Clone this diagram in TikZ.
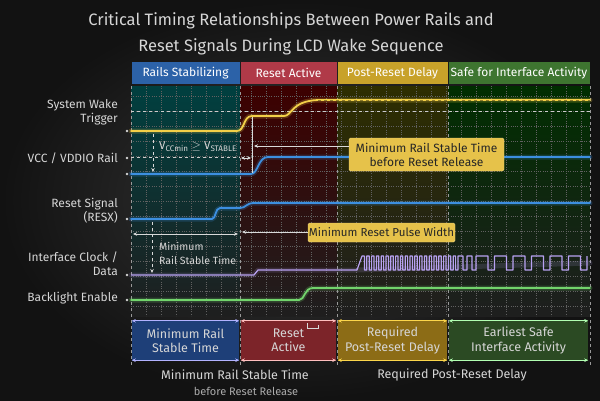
\documentclass[tikz,border=0pt]{standalone}
\usepackage{fontspec}
\setmainfont{Fira Sans}
\usetikzlibrary{positioning,arrows.meta}
\definecolor{bgdark}{HTML}{1A1A1A}
\definecolor{txtgray}{HTML}{D6D6D6}
\definecolor{hblue}{HTML}{2C62A8}
\definecolor{hred}{HTML}{B03A48}
\definecolor{hgold}{HTML}{C8A22A}
\definecolor{hgreen}{HTML}{3E7530}
\definecolor{sigyellow}{HTML}{F2D048}
\definecolor{sigblue}{HTML}{3C8FE0}
\definecolor{sigpurple}{HTML}{B8A2F2}
\definecolor{siggreen}{HTML}{72D46C}
\definecolor{boxyellow}{HTML}{E6C24A}
\definecolor{bblue}{HTML}{1E3F78}
\definecolor{bred}{HTML}{7C2429}
\definecolor{bgold}{HTML}{8C6C16}
\definecolor{bgreen}{HTML}{2B4A23}
\begin{document}
\begin{tikzpicture}[x=1pt,y=-1pt,>={Stealth[length=4pt,width=3.5pt]},
	hdr/.style={minimum height=22pt, inner sep=0pt, text=white, font=\fontsize{12}{13}\selectfont},
	lbl/.style={text=txtgray, font=\fontsize{12}{14}\selectfont, align=right, anchor=east, inner sep=0pt},
	sig/.style={line width=1.8pt, line cap=round, line join=round},
	glow/.style={line width=5pt, opacity=0.22, line cap=round, line join=round},
	note/.style={fill=boxyellow, draw=boxyellow!70!white, rounded corners=1.5pt, text=black!85, inner sep=0pt, align=center},
	bbox/.style={minimum height=41pt, inner sep=0pt, text=txtgray, align=center, font=\fontsize{12.5}{14.5}\selectfont},
	dim/.style={<->, line width=0.8pt},
	tmark/.style={draw=white!85!black, line width=0.6pt}
	]
	\useasboundingbox (0,0) rectangle (600,400);
	\shade[inner color=black!78, outer color=black!93] (0,0) rectangle (600,400);
	% title
	\node[text=txtgray, font=\fontsize{16.5}{26}\selectfont, align=center] (title) at (291,34)
		{Critical Timing Relationships Between Power Rails and\\Reset Signals During LCD Wake Sequence};
	% phase tints
	\shade[top color=teal!50!black, bottom color=black!88] (131,86) rectangle (240,316);
	\shade[top color=red!24!black, bottom color=black!88] (240,86) rectangle (337,316);
	\shade[top color=yellow!18!black, bottom color=black!88] (337,86) rectangle (448,316);
	\shade[top color=green!18!black, bottom color=black!88] (448,86) rectangle (590,316);
	\foreach \gx in {146,161,...,590} \draw[black!62, dotted, line width=0.3pt] (\gx,86) -- (\gx,316);
	\foreach \gy in {96,111,...,316} \draw[black!62, dotted, line width=0.3pt] (131,\gy) -- (590,\gy);
	\foreach \cx in {131,240,337,448,590} \draw[white!60!black, dashed, line width=0.5pt] (\cx,86) -- (\cx,366);
	% phase headers
	\node[hdr, fill=hblue, minimum width=108pt] (hrails) at (185.5,73) {Rails Stabilizing};
	\node[hdr, fill=hred, minimum width=96pt] (hreset) at (288.5,73) {Reset Active};
	\node[hdr, fill=hgold, minimum width=110pt] (hpost) at (392.5,73) {Post-Reset Delay};
	\node[hdr, fill=hgreen, minimum width=141pt] (hsafe) at (519,73) {Safe for Interface Activity};
	% signal names
	\node[lbl] (lwake) at (118,112) {System Wake\\Trigger};
	\node[lbl] (lvcc) at (118,158) {VCC / VDDIO Rail};
	\node[lbl] (lresx) at (118,211) {Reset Signal\\(RESX)};
	\node[lbl] (lclk) at (118,264) {Interface Clock /\\Data};
	\node[lbl] (lbl) at (118,298) {Backlight Enable};
	\foreach \dy in {131,158,174,219,275,300} \fill[txtgray] (127,\dy) circle (1.4);
	% thresholds
	\draw[white!80!black, dashed, line width=0.6pt] (131,111) -- (590,111);
	\draw[white!80!black, dashed, line width=0.6pt] (131,157) -- (240,157);
	% waveforms
	\foreach \st in {glow,sig} {
		\draw[\st, sigyellow] (131,131) -- (237,131) .. controls (245,131) and (243,116) .. (252,116) -- (284,116)
			.. controls (292,116) and (291,101) .. (318,100) -- (590,100);
		\draw[\st, sigblue] (131,174) -- (251,174) .. controls (258,174) and (258,157) .. (268,157) -- (590,157);
		\draw[\st, sigblue] (131,219) -- (212,219) .. controls (216,219) and (215,208) .. (220,208) -- (240,208)
			.. controls (246,208) and (246,203) .. (254,203) -- (590,203);
		\draw[\st, siggreen] (131,300) -- (299,300) .. controls (305,300) and (304,288) .. (313,288) -- (590,288);
	}
	\draw[sigyellow!60!black, dashed, line width=0.4pt] (318,100) -- (590,100);
	\draw[glow, sigpurple, opacity=0.15] (131,275) -- (254,275) -- (258,270) -- (357,270) -- (590,263);
	\draw[sigpurple, line width=1.2pt, line join=round] (131,275) -- (254,275) -- (258,270) -- (357,270) -- (362,256)
		\foreach \i in {0,...,19} { -- ({362+4.8*\i+2.4},256) -- ({362+4.8*\i+2.4},270) -- ({362+4.8*(\i+1)},270) -- ({362+4.8*(\i+1)},256) }
		\foreach \i in {0,1} { -- ({458+9*\i+5},256) -- ({458+9*\i+5},270) -- ({458+9*(\i+1)},270) -- ({458+9*(\i+1)},256) }
		\foreach \i in {0,...,5} { -- ({476+18.5*\i+12},256) -- ({476+18.5*\i+12},270) -- ({476+18.5*(\i+1)},270) -- ({476+18.5*(\i+1)},256) };
	% timing marks
	\coordinate (wklow) at (153,134);
	\coordinate (vcclow) at (153,172);
	\coordinate (rxlow) at (152,222);
	\coordinate (clklow) at (152,273);
	\coordinate (msl) at (133,234);
	\coordinate (msr) at (238,234);
	\coordinate (vsl) at (241,158);
	\coordinate (vsr) at (251,158);
	\coordinate (reltop) at (252,117);
	\coordinate (relbot) at (252,173);
	\coordinate (reltip) at (254,146);
	\coordinate (pultip) at (242,232);
	\draw[->, dashed, tmark] (wklow) -- (vcclow);
	\draw[->, dashed, tmark] (rxlow) -- (clklow);
	\draw[dim, tmark] (msl) -- (msr);
	\draw[dim, tmark, line width=0.5pt] (vsl) -- (vsr);
	\draw[tmark] (reltop) -- (relbot);
	\node[text=txtgray, font=\fontsize{11.5}{13}\selectfont, inner sep=0pt] (vstab) at (198,147)
		{V\textsubscript{CCmin} \ensuremath{\geq} V\textsubscript{STABLE}};
	\node[text=txtgray, font=\fontsize{10.5}{14}\selectfont, align=left, anchor=west, inner sep=0pt] (minrail) at (159,253)
		{Minimum\\Rail Stable Time};
	\node[note, minimum width=155pt, minimum height=33pt, font=\fontsize{12}{14}\selectfont] (relbox) at (426.5,154.5)
		{Minimum Rail Stable Time\\before Reset Release};
	\node[note, minimum width=147pt, minimum height=19pt, font=\fontsize{11.5}{13}\selectfont] (pulbox) at (381.5,232.5)
		{Minimum Reset Pulse Width};
	\draw[->, tmark] (relbox.west |- reltip) -- (reltip);
	\draw[->, tmark] (pulbox.west |- pultip) -- (pultip);
	% phase durations
	\node[bbox, fill=bblue, minimum width=107pt] (drails) at (185.5,340.5) {Minimum Rail\\Stable Time};
	\node[bbox, fill=bred, minimum width=95pt] (dreset) at (288.5,340.5) {Reset\\Active};
	\node[bbox, fill=bgold, minimum width=109pt] (dpost) at (392.5,340.5) {Required\\Post-Reset Delay};
	\node[bbox, fill=bgreen, minimum width=139pt] (dsafe) at (518.5,340.5) {Earliest Safe\\Interface Activity};
	\foreach \bx/\bc in {drails/blue!30!white, dreset/red!25!white, dpost/yellow!60!orange!70!white, dsafe/green!30!white} {
		\draw[dim, \bc] (\bx.north west) ++(0,1) -- ([yshift=-1pt]\bx.north east);
		\draw[dim, \bc] (\bx.south west) ++(0,-1) -- ([yshift=1pt]\bx.south east);
	}
	\draw[white!85!black, line width=0.6pt] (307,323) -- (307,328) -- (318,328) -- (318,325);
	\node[text=txtgray, font=\fontsize{12.5}{14}\selectfont] (totrail) at (235,375) {Minimum Rail Stable Time};
	\node[text=txtgray!80!black, font=\fontsize{11}{12}\selectfont, below=0pt of totrail, xshift=11pt] (totrel) {before Reset Release};
	\node[text=txtgray, font=\fontsize{12.5}{14}\selectfont] (totpost) at (452,375) {Required Post-Reset Delay};
\end{tikzpicture}
\end{document}
